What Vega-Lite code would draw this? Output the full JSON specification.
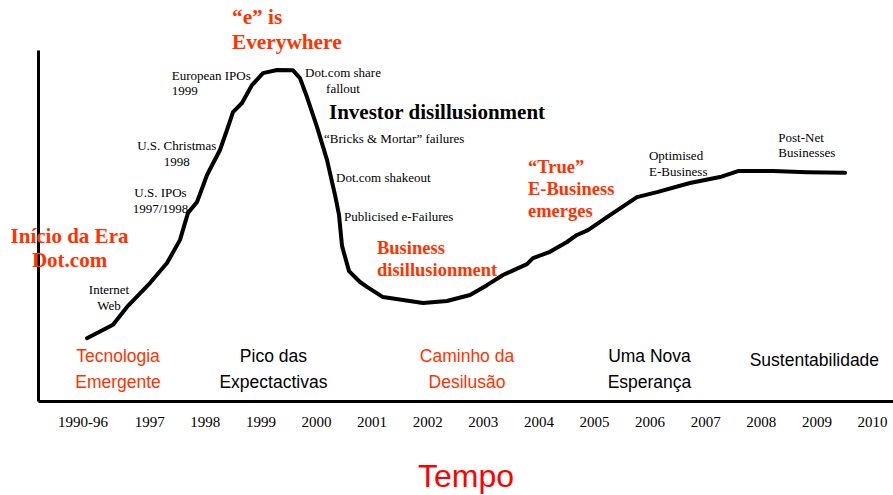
{
  "$schema": "https://vega.github.io/schema/vega-lite/v6.json",
  "width": 855,
  "height": 351,
  "autosize": {"type": "none"},
  "padding": {"left": 38, "top": 50, "right": 0, "bottom": 94},
  "background": "white",
  "config": {"view": {"stroke": null}},
  "datasets": {
    "curva": [
      {"t": 1995.881, "nivel": 17.9},
      {"t": 1996.349, "nivel": 21.7},
      {"t": 1996.601, "nivel": 26.8},
      {"t": 1997.014, "nivel": 33.6},
      {"t": 1997.320, "nivel": 39.3},
      {"t": 1997.554, "nivel": 45.9},
      {"t": 1997.698, "nivel": 53.6},
      {"t": 1997.860, "nivel": 56.7},
      {"t": 1998.040, "nivel": 64.4},
      {"t": 1998.273, "nivel": 71.5},
      {"t": 1998.399, "nivel": 77.2},
      {"t": 1998.507, "nivel": 82.3},
      {"t": 1998.669, "nivel": 84.9},
      {"t": 1998.849, "nivel": 90.0},
      {"t": 1999.047, "nivel": 93.4},
      {"t": 1999.299, "nivel": 94.3},
      {"t": 1999.586, "nivel": 94.2},
      {"t": 1999.712, "nivel": 92.0},
      {"t": 1999.838, "nivel": 86.6},
      {"t": 2000.018, "nivel": 78.1},
      {"t": 2000.198, "nivel": 68.7},
      {"t": 2000.342, "nivel": 58.7},
      {"t": 2000.414, "nivel": 53.0},
      {"t": 2000.468, "nivel": 44.2},
      {"t": 2000.594, "nivel": 37.0},
      {"t": 2000.791, "nivel": 33.9},
      {"t": 2000.917, "nivel": 32.5},
      {"t": 2001.205, "nivel": 29.6},
      {"t": 2001.565, "nivel": 28.8},
      {"t": 2001.924, "nivel": 27.9},
      {"t": 2002.356, "nivel": 28.5},
      {"t": 2002.770, "nivel": 30.2},
      {"t": 2003.076, "nivel": 33.0},
      {"t": 2003.363, "nivel": 35.9},
      {"t": 2003.795, "nivel": 39.0},
      {"t": 2003.903, "nivel": 40.7},
      {"t": 2004.209, "nivel": 42.5},
      {"t": 2004.514, "nivel": 45.3},
      {"t": 2004.694, "nivel": 47.3},
      {"t": 2004.892, "nivel": 48.7},
      {"t": 2005.234, "nivel": 52.4},
      {"t": 2005.773, "nivel": 58.1},
      {"t": 2006.133, "nivel": 59.5},
      {"t": 2006.727, "nivel": 62.1},
      {"t": 2007.266, "nivel": 63.8},
      {"t": 2007.590, "nivel": 65.5},
      {"t": 2008.219, "nivel": 65.5},
      {"t": 2008.831, "nivel": 65.2},
      {"t": 2009.514, "nivel": 65.0}
    ],
    "destaque_grande_esq": [
      {"t": 1998.489, "nivel": 109.1, "rotulo": "“e” is\nEverywhere"}
    ],
    "destaque_esq": [
      {"t": 2001.097, "nivel": 43.7, "rotulo": "Business\ndisillusionment"},
      {"t": 2003.813, "nivel": 66.75, "rotulo": "“True”\nE-Business\nemerges"}
    ],
    "destaque_centro": [
      {"t": 1995.567, "nivel": 46.7, "rotulo": "Início da Era\nDot.com"}
    ],
    "titulo_negro": [
      {"t": 2000.234, "nivel": 82.0, "rotulo": "Investor disillusionment"}
    ],
    "notas_esq": [
      {"t": 1997.405, "nivel": 92.6, "rotulo": "European IPOs\n1999"},
      {"t": 2000.144, "nivel": 74.6, "rotulo": "“Bricks & Mortar” failures"},
      {"t": 2000.360, "nivel": 63.6, "rotulo": "Dot.com shakeout"},
      {"t": 2000.504, "nivel": 52.3, "rotulo": "Publicised e-Failures"},
      {"t": 2005.989, "nivel": 69.8, "rotulo": "Optimised\nE-Business"},
      {"t": 2008.315, "nivel": 75.0, "rotulo": "Post-Net\nBusinesses"}
    ],
    "notas_centro": [
      {"t": 2000.486, "nivel": 93.4, "rotulo": "Dot.com share\nfallout"},
      {"t": 1997.495, "nivel": 72.7, "rotulo": "U.S. Christmas\n1998"},
      {"t": 1997.203, "nivel": 59.2, "rotulo": "U.S. IPOs\n1997/1998"},
      {"t": 1996.277, "nivel": 31.6, "rotulo": "Internet\nWeb"}
    ],
    "fases": [
      {"t": 1996.439, "nivel": 12.45, "rotulo": "Tecnologia\nEmergente", "tom": "destaque"},
      {"t": 1999.234, "nivel": 12.45, "rotulo": "Pico das\nExpectactivas", "tom": "normal"},
      {"t": 2002.716, "nivel": 12.45, "rotulo": "Caminho da\nDesilusão", "tom": "destaque"},
      {"t": 2005.998, "nivel": 12.45, "rotulo": "Uma Nova\nEsperança", "tom": "normal"},
      {"t": 2008.964, "nivel": 11.5, "rotulo": "Sustentabilidade", "tom": "normal"}
    ]
  },
  "encoding": {
    "x": {
      "field": "t",
      "type": "quantitative",
      "scale": {"domain": [1995, 2010.378], "nice": false, "zero": false},
      "axis": {
        "values": [1995.8, 1997, 1998, 1999, 2000, 2001, 2002, 2003, 2004, 2005, 2006, 2007, 2008, 2009, 2010],
        "format": "d",
        "labelExpr": "datum.value < 1996 ? '1990-96' : datum.label",
        "labelFont": "Liberation Serif",
        "labelFontSize": 15,
        "labelColor": "black",
        "labelPadding": 13,
        "labelFlush": false,
        "labelOverlap": false,
        "ticks": false,
        "tickSize": 0,
        "grid": false,
        "domain": true,
        "domainColor": "black",
        "domainWidth": 3,
        "title": "Tempo",
        "titleFont": "Liberation Sans",
        "titleFontSize": 32,
        "titleFontWeight": "normal",
        "titleColor": "#ff0000",
        "titlePadding": 32
      }
    },
    "y": {
      "field": "nivel",
      "type": "quantitative",
      "scale": {"domain": [0, 100], "nice": false, "zero": false},
      "axis": {
        "labels": false,
        "ticks": false,
        "tickSize": 0,
        "grid": false,
        "title": null,
        "domain": true,
        "domainColor": "black",
        "domainWidth": 3
      }
    }
  },
  "layer": [
    {
      "data": {"name": "curva"},
      "mark": {"type": "line", "color": "black", "strokeWidth": 4, "strokeCap": "round", "strokeJoin": "round"}
    },
    {
      "data": {"name": "destaque_grande_esq"},
      "mark": {"type": "text", "align": "left", "baseline": "middle", "lineBreak": "\n", "font": "Liberation Serif", "fontWeight": "bold", "fontSize": 21.3, "lineHeight": 24.7, "color": "#ff3300"},
      "encoding": {"text": {"field": "rotulo", "type": "nominal"}}
    },
    {
      "data": {"name": "destaque_esq"},
      "mark": {"type": "text", "align": "left", "baseline": "middle", "lineBreak": "\n", "font": "Liberation Serif", "fontWeight": "bold", "fontSize": 18.5, "lineHeight": 22.3, "color": "#ff3300"},
      "encoding": {"text": {"field": "rotulo", "type": "nominal"}}
    },
    {
      "data": {"name": "destaque_centro"},
      "mark": {"type": "text", "align": "center", "baseline": "middle", "lineBreak": "\n", "font": "Liberation Serif", "fontWeight": "bold", "fontSize": 21, "lineHeight": 24, "color": "#ff3300"},
      "encoding": {"text": {"field": "rotulo", "type": "nominal"}}
    },
    {
      "data": {"name": "titulo_negro"},
      "mark": {"type": "text", "align": "left", "baseline": "middle", "font": "Liberation Serif", "fontWeight": "bold", "fontSize": 21, "color": "black"},
      "encoding": {"text": {"field": "rotulo", "type": "nominal"}}
    },
    {
      "data": {"name": "notas_esq"},
      "mark": {"type": "text", "align": "left", "baseline": "middle", "lineBreak": "\n", "font": "Liberation Serif", "fontSize": 13, "lineHeight": 15.5, "color": "black"},
      "encoding": {"text": {"field": "rotulo", "type": "nominal"}}
    },
    {
      "data": {"name": "notas_centro"},
      "mark": {"type": "text", "align": "center", "baseline": "middle", "lineBreak": "\n", "font": "Liberation Serif", "fontSize": 13, "lineHeight": 16, "color": "black"},
      "encoding": {"text": {"field": "rotulo", "type": "nominal"}}
    },
    {
      "data": {"name": "fases"},
      "mark": {"type": "text", "align": "center", "baseline": "middle", "lineBreak": "\n", "font": "Liberation Sans", "fontSize": 17.5, "lineHeight": 26},
      "encoding": {
        "text": {"field": "rotulo", "type": "nominal"},
        "color": {"field": "tom", "type": "nominal", "scale": {"domain": ["destaque", "normal"], "range": ["#ff3300", "black"]}, "legend": null}
      }
    }
  ]
}
